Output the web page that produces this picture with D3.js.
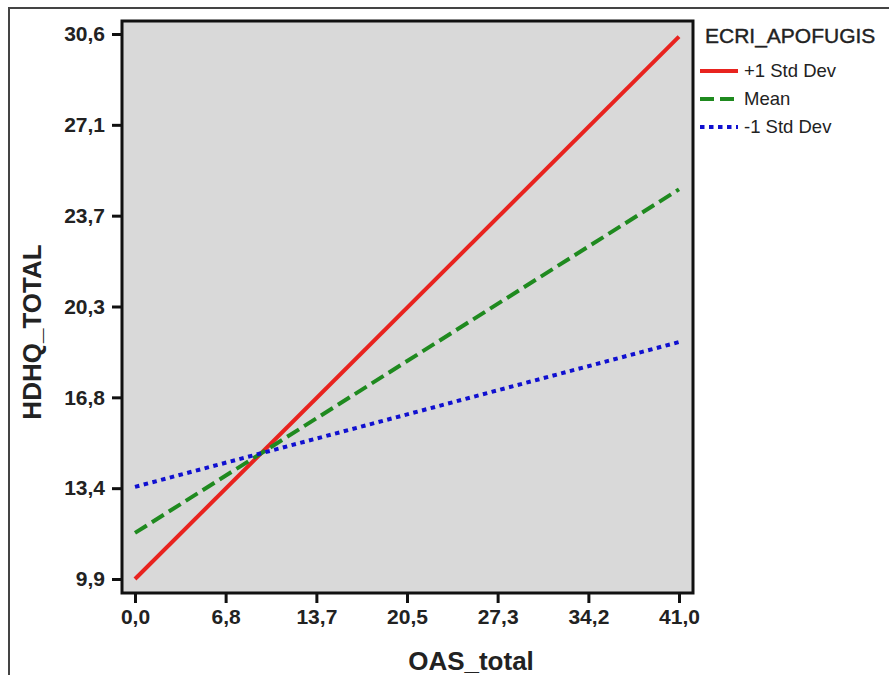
<!DOCTYPE html>
<html>
<head>
<meta charset="utf-8">
<script src="https://cdn.jsdelivr.net/npm/d3@7"></script>
<style>
  body { margin: 0; background: #fff; }
  text { font-family: Arial, "Liberation Sans", sans-serif; fill: #222; }
</style>
</head>
<body>
<div id="chart"></div>
<script>
// data
var xValues = [0, 41];
var plusSD = [9.9, 30.5];
var meanLine = [11.65, 24.7];
var minusSD = [13.4, 18.9];
var seriesNames = ["+1 Std Dev", "Mean", "-1 Std Dev"];

var xTickValues = [0, 6.83, 13.67, 20.5, 27.33, 34.17, 41];
var xTickLabels = ["0,0", "6,8", "13,7", "20,5", "27,3", "34,2", "41,0"];
var yTickValues = [9.9, 13.35, 16.8, 20.25, 23.7, 27.15, 30.6];
var yTickLabels = ["9,9", "13,4", "16,8", "20,3", "23,7", "27,1", "30,6"];

var svgWidth = 889;
var svgHeight = 675;

// plot frame
var plot = {left: 122, top: 21, right: 693, bottom: 593};

var svg = d3.select("#chart")
    .append("svg")
    .attr("width", svgWidth)
    .attr("height", svgHeight);

// outer frame
svg.append("rect")
    .attr("x", 9).attr("y", 8)
    .attr("width", svgWidth).attr("height", svgHeight)
    .attr("fill", "none")
    .attr("stroke", "#444")
    .attr("stroke-width", 2);

// scales
var x = d3.scaleLinear().domain([0, 41]).range([135, 679]);
var y = d3.scaleLinear().domain([9.9, 30.6]).range([579, 34]);

// background of plot
svg.append("rect")
    .attr("x", plot.left).attr("y", plot.top)
    .attr("width", plot.right - plot.left)
    .attr("height", plot.bottom - plot.top)
    .attr("fill", "#d9d9d9");

// lines
var series = [
  {name: seriesNames[0], values: plusSD, color: "#e8231f", dash: null},
  {name: seriesNames[1], values: meanLine, color: "#1f8a1f", dash: "14,6"},
  {name: seriesNames[2], values: minusSD, color: "#1010d0", dash: "4.5,4.5"}
];

var line = d3.line()
    .x(function(d, i) { return x(xValues[i]); })
    .y(function(d) { return y(d); });

svg.selectAll(".series")
    .data(series)
    .enter()
    .append("path")
    .attr("class", "series")
    .attr("d", function(d) { return line(d.values); })
    .attr("fill", "none")
    .attr("stroke", function(d) { return d.color; })
    .attr("stroke-width", 4)
    .attr("stroke-dasharray", function(d) { return d.dash; });

// plot border
svg.append("rect")
    .attr("x", plot.left).attr("y", plot.top)
    .attr("width", plot.right - plot.left)
    .attr("height", plot.bottom - plot.top)
    .attr("fill", "none")
    .attr("stroke", "#111")
    .attr("stroke-width", 3);

// axes
var xAxis = d3.axisBottom(x)
    .tickValues(xTickValues)
    .tickSize(9)
    .tickPadding(6)
    .tickFormat(function(d, i) { return xTickLabels[i]; });

var yAxis = d3.axisLeft(y)
    .tickValues(yTickValues)
    .tickSize(9)
    .tickPadding(7)
    .tickFormat(function(d, i) { return yTickLabels[i]; });

var gx = svg.append("g")
    .attr("transform", `translate(0, ${plot.bottom + 1})`)
    .call(xAxis);

var gy = svg.append("g")
    .attr("transform", `translate(${plot.left - 1}, 0)`)
    .call(yAxis);

[gx, gy].forEach(function(g) {
  g.select(".domain").remove();
  g.selectAll(".tick line").attr("stroke", "#111").attr("stroke-width", 3);
  g.selectAll(".tick text")
      .style("font-family", "Arial, 'Liberation Sans', sans-serif")
      .style("font-size", "21px")
      .style("font-weight", "bold")
      .attr("fill", "#222");
});

// axis titles
svg.append("text")
    .attr("x", 471)
    .attr("y", 670)
    .attr("text-anchor", "middle")
    .style("font-size", "26px")
    .style("font-weight", "bold")
    .text("OAS_total");

svg.append("text")
    .attr("transform", "translate(41, 332) rotate(-90)")
    .attr("text-anchor", "middle")
    .style("font-size", "26px")
    .style("font-weight", "bold")
    .text("HDHQ_TOTAL");

// legend
svg.append("text")
    .attr("x", 705)
    .attr("y", 43)
    .style("font-size", "21px")
    .style("stroke", "#222")
    .style("stroke-width", 0.4)
    .text("ECRI_APOFUGIS");

var legend = svg.selectAll(".legend")
    .data(series)
    .enter()
    .append("g")
    .attr("class", "legend")
    .attr("transform", function(d, i) { return `translate(700, ${71 + i * 28})`; });

legend.append("line")
    .attr("x1", 0).attr("x2", 38)
    .attr("y1", 0).attr("y2", 0)
    .attr("stroke", function(d) { return d.color; })
    .attr("stroke-width", 4)
    .attr("stroke-dasharray", function(d) { return d.dash; });

legend.append("text")
    .attr("x", 44)
    .attr("y", 6)
    .style("font-size", "18.5px")
    .text(function(d) { return d.name; });
</script>
</body>
</html>
